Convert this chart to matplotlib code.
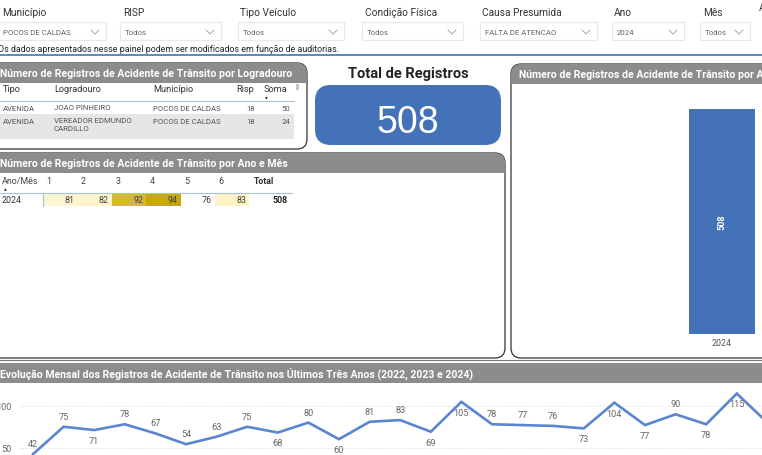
import matplotlib
matplotlib.use("Agg")
from matplotlib import pyplot as plt
from matplotlib.patches import FancyBboxPatch, Rectangle

W, H = 762, 456
GRAY = "#8c8c8c"
BLUE = "#4472b8"
LINE = "#5b85d0"

plt.rcParams["font.family"] = ["Roboto", "DejaVu Sans"]

# slicers
SLICER_NAMES = ["Município", "RISP", "Tipo Veículo", "Condição Física", "Causa Presumida", "Ano", "Mês"]
SLICER_VALUES = ["POCOS DE CALDAS", "Todos", "Todos", "Todos", "FALTA DE ATENCAO", "2024", "Todos"]

# street table
STREET_COLS = ["Tipo", "Logradouro", "Município", "Risp", "Soma"]
STREET_TIPO = ["AVENIDA", "AVENIDA"]
STREET_NAME = ["JOAO PINHEIRO", "VEREADOR EDMUNDO\nCARDILLO"]
STREET_CITY = ["POCOS DE CALDAS", "POCOS DE CALDAS"]
STREET_RISP = [18, 18]
STREET_SOMA = [50, 24]

# month matrix
MONTHS = [1, 2, 3, 4, 5, 6]
MONTH_VALUES = [81, 82, 92, 94, 76, 83]
MONTH_COLORS = ["#fdf5d2", "#fdf4cc", "#d4b92c", "#c9a80e", "#ffffff", "#fdf3c4"]
TOTAL = 508

# bar
BAR_YEARS = ["2024"]
BAR_VALUES = [508]

# line, the last month falls off the right edge
LINE_VALUES = [42, 75, 71, 78, 67, 54, 63, 75, 68, 80, 60, 81, 83, 69, 105, 78, 77, 76, 73, 104, 77, 90, 78, 115, 80]
# indexes of the points whose label sits under the line
LABEL_BELOW = [2, 8, 10, 13, 14, 18, 19, 20, 22, 23]


def panel(bg, x0, y0, x1, y1, head_h, title, title_x, r=10):
    box = FancyBboxPatch((x0 + r, y0 + r), x1 - x0 - 2 * r, y1 - y0 - 2 * r,
                         boxstyle=f"round,pad={r},rounding_size={r}",
                         fc="white", ec="#333333", lw=0.9, zorder=1)
    bg.add_patch(box)
    head = Rectangle((x0, y0), x1 - x0, head_h, fc=GRAY, ec="none", zorder=2)
    bg.add_patch(head)
    head.set_clip_path(box)
    bg.text(title_x, y0 + head_h / 2, title, color="white", fontsize=7.6, fontweight="bold",
            va="center", ha="left", zorder=3)


fig = plt.figure(figsize=(W / 100, H / 100), dpi=100)
bg = fig.add_axes([0, 0, 1, 1])
bg.set_xlim(0, W)
bg.set_ylim(H, 0)
bg.axis("off")

# slicer row
label_x = [2, 123, 240, 365, 482, 614, 703]
box_x = [(-2, 106), (120, 221), (238, 344), (362, 463), (480, 597), (612, 684), (700, 750)]
for name, val, lx, (b0, b1) in zip(SLICER_NAMES, SLICER_VALUES, label_x, box_x):
    bg.text(lx, 13, name, fontsize=7.3, color="#333333", va="center")
    bg.add_patch(Rectangle((b0, 23), b1 - b0, 18, fc="white", ec="#e8e8e8", lw=0.8))
    bg.text(b0 + 5, 33, val, fontsize=5.6, color="#666666", va="center")
    bg.plot([b1 - 15, b1 - 11, b1 - 7], [31, 35, 31], color="#999999", lw=0.6)
bg.text(759, 8, "A", fontsize=7.3, color="#333333", va="center")
bg.text(-2, 49.5, "Os dados apresentados nesse painel podem ser modificados em função de auditorias.",
        fontsize=6.4, color="#222222", va="center")
bg.plot([0, W], [56, 56], color=BLUE, lw=1.2)

# street table
panel(bg, -12, 64, 307, 150, 20, "Número de Registros de Acidente de Trânsito por Logradouro", 0)
col_x = [3, 54, 153, 236, 264]
for name, x in zip(STREET_COLS, col_x):
    bg.text(x, 90, name, fontsize=6.6, color="#333333", va="center", zorder=4)
bg.text(266, 98, "▾", fontsize=4, color="#333333", ha="center", va="center", zorder=4,
        family="DejaVu Sans")
bg.plot([0, 294], [101.5, 101.5], color="#a9c0d8", lw=0.8, zorder=4)
bg.add_patch(Rectangle((295.5, 85), 3, 6, fc="#c4c4c4", ec="none", zorder=4))
bg.add_patch(Rectangle((0, 115), 294, 25, fc="#e6e6e6", ec="none", zorder=2))
row_y = [109, 122.5]
for i in range(len(STREET_TIPO)):
    bg.text(3, row_y[i], STREET_TIPO[i], fontsize=5.6, color="#555555", va="center", zorder=4)
    bg.text(54, row_y[i] - 4, STREET_NAME[i], fontsize=5.6, color="#555555", va="top", zorder=4, linespacing=1.35)
    bg.text(153, row_y[i], STREET_CITY[i], fontsize=5.6, color="#555555", va="center", zorder=4)
    bg.text(255, row_y[i], str(STREET_RISP[i]), fontsize=5.6, color="#555555", va="center", ha="right", zorder=4)
    bg.text(290, row_y[i], str(STREET_SOMA[i]), fontsize=5.6, color="#555555", va="center", ha="right", zorder=4)

# total card
bg.text(408, 74, "Total de Registros", fontsize=10.5, fontweight="bold", color="#222222", ha="center", va="center")
r = 16
bg.add_patch(FancyBboxPatch((315 + r, 86 + r), 186 - 2 * r, 60 - 2 * r,
                            boxstyle=f"round,pad={r},rounding_size={r}", fc=BLUE, ec="none"))
bg.text(408, 123, str(TOTAL), fontsize=27, color="white", ha="center", va="center",
        family="Liberation Sans")

# month matrix
panel(bg, -12, 154, 505, 359, 20, "Número de Registros de Acidente de Trânsito por Ano e Mês", 0)
bg.text(2, 182, "Ano/Mês", fontsize=6.4, color="#444444", va="center", zorder=4)
bg.text(5, 189, "▴", fontsize=4, color="#333333", ha="center", va="center", zorder=4, family="DejaVu Sans")
bg.plot([0, 292], [193.5, 193.5], color="#a9c0d8", lw=0.8, zorder=4)
bg.plot([43, 43], [194, 207], color="#a9c0d8", lw=0.8, zorder=4)
bg.text(2, 201, "2024", fontsize=6.4, color="#333333", va="center", zorder=4)
cell_w = 34.4
for i, (m, v, c) in enumerate(zip(MONTHS, MONTH_VALUES, MONTH_COLORS)):
    x = 43 + i * cell_w
    bg.add_patch(Rectangle((x, 194), cell_w, 13, fc=c, ec="none", zorder=2))
    bg.text(x + 6, 182, str(m), fontsize=6.4, color="#444444", ha="center", va="center", zorder=4)
    bg.text(x + cell_w - 3, 201, str(v), fontsize=6.4, color="#444444", ha="right", va="center", zorder=4)
bg.text(254, 182, "Total", fontsize=6.4, fontweight="bold", color="#333333", va="center", zorder=4)
bg.text(288, 201, str(TOTAL), fontsize=6.4, fontweight="bold", color="#222222", ha="right", va="center", zorder=4)

# bar panel
panel(bg, 511, 65, 790, 359, 20, "Número de Registros de Acidente de Trânsito por Ano", 519)

# bottom header
bg.plot([0, W], [361, 361], color="#777777", lw=0.8)
bg.add_patch(Rectangle((0, 364), W, 20, fc=GRAY, ec="none"))
bg.text(0, 374, "Evolução Mensal dos Registros de Acidente de Trânsito nos Últimos Três Anos (2022, 2023 e 2024)",
        color="white", fontsize=7.6, fontweight="bold", va="center")

# bar chart
bar_ax = fig.add_axes([519 / W, 1 - 335 / H, (W - 519) / W, 240 / H])
bar_ax.patch.set_alpha(0)
unit = 82.5
bar_ax.set_xlim(-(722 - 519) / unit, (W - 722) / unit)
bar_ax.set_ylim(0, BAR_VALUES[0] * 240 / 225)
bars = bar_ax.bar(BAR_YEARS, BAR_VALUES, width=0.8, color=BLUE)
bar_ax.bar_label(bars, label_type="center", rotation=90, color="white", fontsize=6.6, fontweight="bold")
bar_ax.set_yticks([])
bar_ax.tick_params(axis="x", length=0, labelsize=6.4, labelcolor="#555555", pad=3)
for s in bar_ax.spines.values():
    s.set_visible(False)

# line chart
px_per_month = 30.6
px_per_unit = 0.83
line_ax = fig.add_axes([20 / W, 0, (W - 20) / W, (H - 385) / H])
line_ax.patch.set_alpha(0)
line_ax.set_xlim((20 - 33) / px_per_month, (W - 33) / px_per_month)
line_ax.set_ylim(100 - (456 - 407) / px_per_unit, 100 + (407 - 385) / px_per_unit)
months = list(range(len(LINE_VALUES)))
line_ax.plot(months, LINE_VALUES, color=LINE, lw=1.9, solid_joinstyle="miter")
for i, v in enumerate(LINE_VALUES[:-1]):
    dy = -7.5 if i in LABEL_BELOW else 7.5
    line_ax.annotate(str(v), (i, v), xytext=(0, dy), textcoords="offset points",
                     ha="center", va="center", fontsize=6.6, color="#666666", annotation_clip=False)
line_ax.set_xticks([])
line_ax.set_yticks([50, 100])
line_ax.tick_params(axis="y", length=0, labelsize=6.6, labelcolor="#666666", pad=6)
line_ax.grid(axis="y", color="#cccccc", lw=0.6, ls=(0, (1, 2)))
line_ax.set_axisbelow(True)
for s in line_ax.spines.values():
    s.set_visible(False)

fig.savefig("out.png", dpi=100)
